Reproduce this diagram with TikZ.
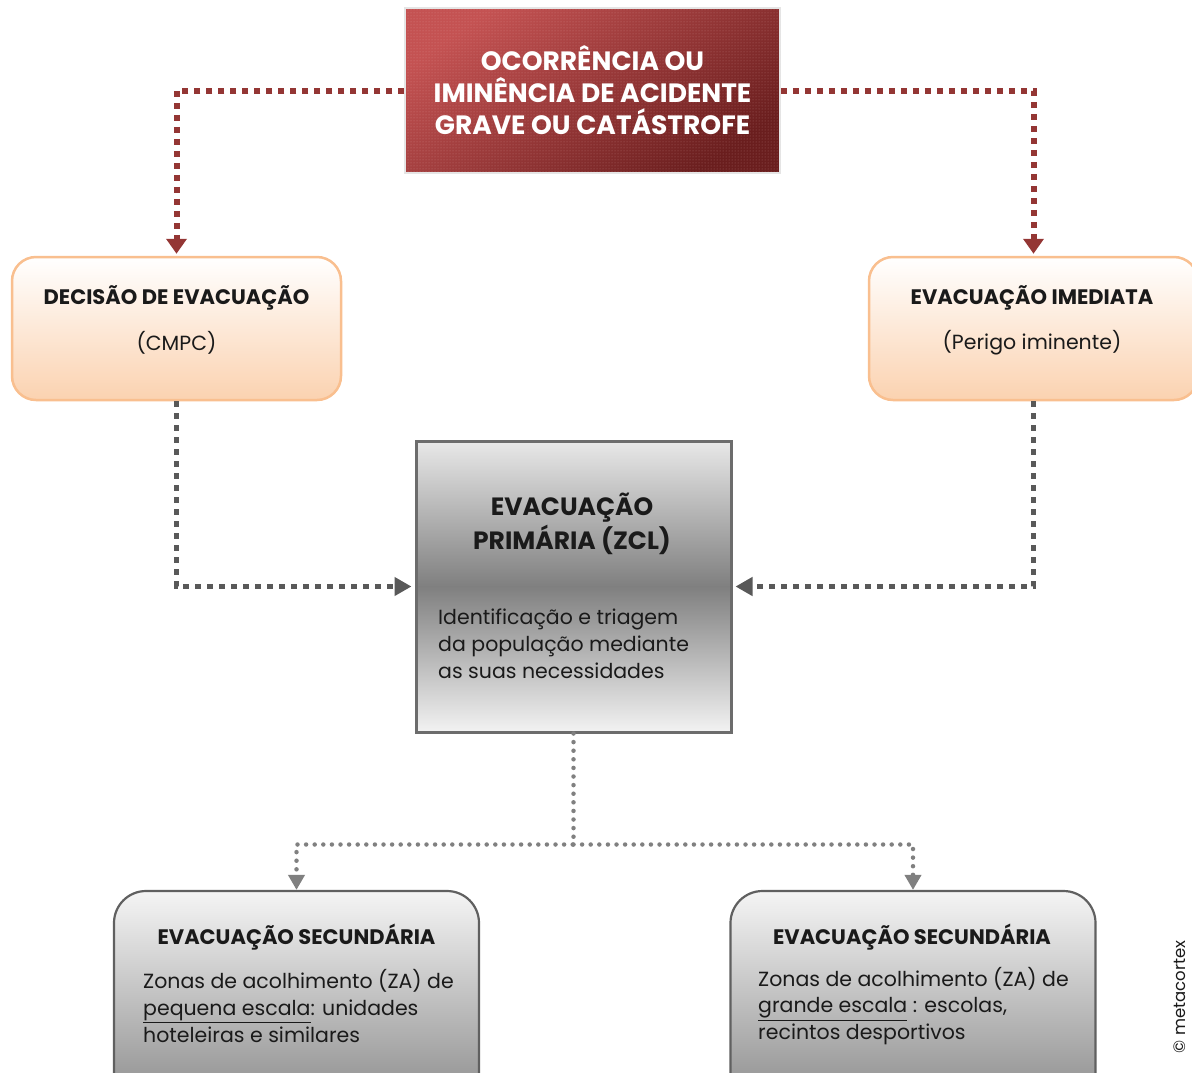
\documentclass[tikz,border=0pt]{standalone}
\usepackage{fontspec}
\setmainfont{Poppins}
\usetikzlibrary{arrows.meta,patterns,calc}
\definecolor{redA}{HTML}{C45252}
\definecolor{redB}{HTML}{6A1E1E}
\definecolor{redLine}{HTML}{943634}
\definecolor{orBorder}{HTML}{F9BF8F}
\definecolor{orFill}{HTML}{FBD2B0}
\definecolor{grayLine}{HTML}{595959}
\definecolor{grayLineB}{HTML}{808080}
\definecolor{txt}{HTML}{1A1A1A}
\tikzset{
  redbox/.style={rectangle, minimum width=375pt, minimum height=165pt, inner sep=0pt,
    top color=redA, bottom color=redB, shading angle=35, draw=white!90!black, line width=1.5pt,
    postaction={pattern=dots, pattern color=white!85!red, fill opacity=0.35}},
  orbox/.style={rectangle, rounded corners=24pt, minimum width=329pt, minimum height=143pt,
    inner sep=0pt, draw=orBorder, line width=2.5pt, top color=white, bottom color=orFill},
  primbox/.style={rectangle, minimum width=315pt, minimum height=291pt, inner sep=0pt,
    draw=gray!85!black, line width=3pt},
  secbox/.style={rectangle, rounded corners=32pt, minimum width=365pt, minimum height=230pt,
    inner sep=0pt, draw=gray!75!black, line width=2.2pt, top color=white!96!black, bottom color=white!52!black},
  ttl/.style={font=\bfseries\fontsize{21}{25}\selectfont, text=txt, inner sep=0pt},
  body/.style={font=\fontsize{20.5}{26.8}\selectfont, text=txt, inner sep=0pt, align=left},
  redcon/.style={draw=redLine, line width=6pt, dash pattern=on 6pt off 6pt,
    -{Triangle[width=20pt,length=15pt]}},
  graycon/.style={draw=grayLine, line width=5pt, dash pattern=on 6pt off 6pt,
    -{Triangle[width=18pt,length=17pt]}},
  dotcon/.style={draw=grayLineB, line width=4.5pt, line cap=round, dash pattern=on 0pt off 8.6pt,
    -{Triangle[width=16pt,length=15pt]}},
}
\begin{document}
\begin{tikzpicture}[x=1pt,y=-1pt]
\useasboundingbox (0,0) rectangle (1192,1072);
\clip (0,0) rectangle (1192,1072);

% boxes
\node[redbox] (top) at (592.5,90.5) {};
\node[orbox] (dec) at (176.5,328.5) {};
\node[orbox] (ime) at (1033.5,328.5) {};
\node[primbox] (prim) at (573.5,586.5) {};
\shade[top color=white!91!black, bottom color=white!50!black]
  ($(prim.north west)+(1.5,1.5)$) rectangle ($(prim.east)+(-1.5,0)$);
\shade[top color=white!50!black, bottom color=white!95!black]
  ($(prim.west)+(1.5,0)$) rectangle ($(prim.south east)+(-1.5,-1.5)$);
\node[primbox] (primb) at (573.5,586.5) {};
\node[secbox] (secL) at (296.5,1006) {};
\node[secbox] (secR) at (913,1006) {};

% texts
\node[font=\bfseries\fontsize{26.5}{32}\selectfont, text=white, align=center, inner sep=0pt]
  (topt) at (592.5,90.5) {OCORRÊNCIA OU\\IMINÊNCIA DE ACIDENTE\\GRAVE OU CATÁSTROFE};
\node[ttl] (dect) at (176.5,298) {DECISÃO DE EVACUAÇÃO};
\node[body] (decs) at (176.5,343) {(CMPC)};
\node[ttl] (imet) at (1032,298) {EVACUAÇÃO IMEDIATA};
\node[body] (imes) at (1032,343) {(Perigo iminente)};
\node[font=\bfseries\fontsize{25}{34}\selectfont, text=txt, align=center, inner sep=0pt]
  (primt) at (572,524) {EVACUAÇÃO\\PRIMÁRIA (ZCL)};
\node[body, anchor=west] (prims) at (438,644) {Identificação e triagem\\da população mediante\\as suas necessidades};
\node[ttl] (secLt) at (296.5,937) {EVACUAÇÃO SECUNDÁRIA};
\node[body, anchor=west] (secLs) at (143,1006) {Zonas de acolhimento (ZA) de\\\underline{pequena escala}: unidades\\hoteleiras e similares};
\node[ttl] (secRt) at (912,937) {EVACUAÇÃO SECUNDÁRIA};
\node[body, anchor=west] (secRs) at (758,1006) {Zonas de acolhimento (ZA) de\\\underline{grande escala} : escolas,\\recintos desportivos};
\node[font=\fontsize{16.5}{18}\selectfont, text=txt, rotate=90, inner sep=0pt] (copy) at (1180,997) {© metacortex};

% connectors
\draw[redcon] (top.west) -| ($(dec.north)+(0,-2)$);
\draw[redcon] (top.east) -| ($(ime.north)+(0,-2)$);
\draw[graycon] (dec.south) |- ($(prim.west)+(-3,0)$);
\draw[graycon] (ime.south) |- ($(prim.east)+(3,0)$);
\coordinate (split) at ($(prim.south)+(0,111)$);
\draw[dotcon] (prim.south) -- (split) -| (secL.north);
\draw[dotcon] (split) -| (secR.north);
\end{tikzpicture}
\end{document}
